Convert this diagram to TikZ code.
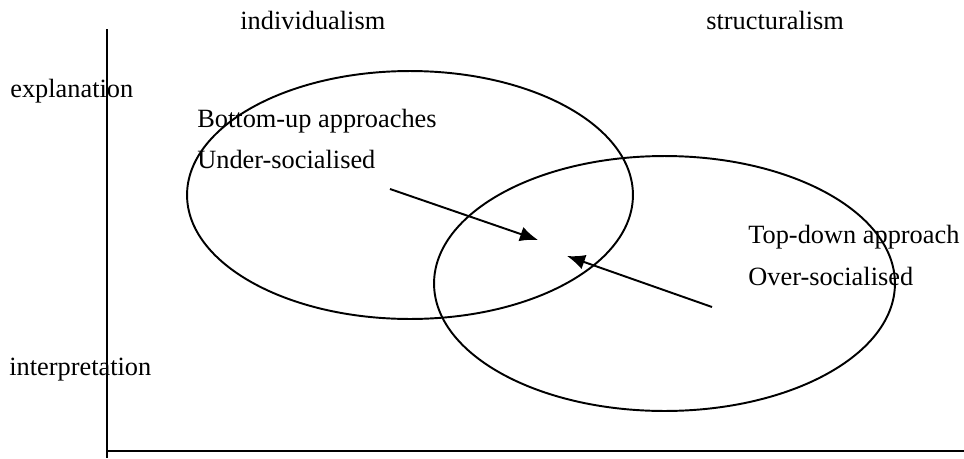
\documentclass[tikz,border=0pt]{standalone}
\usepackage{fontspec}
\setmainfont{Liberation Serif}
\usetikzlibrary{shapes.geometric,arrows.meta}
\begin{document}
\begin{tikzpicture}[x=0.02cm, y=0.02cm,
  txt/.style={anchor=base west, inner sep=0pt, font=\fontsize{15}{18}\selectfont},
  oval/.style={shape=ellipse, draw=black, line width=1.1pt, inner sep=0pt, outer sep=0pt},
  pointer/.style={-{Latex[length=3.6mm, width=3mm]}, line width=1.1pt, draw=black}]
\useasboundingbox (0,0) rectangle (964,458);
% axes
\coordinate (Ytop) at (107,429);
\coordinate (Ybot) at (107,0);
\coordinate (O) at (107,7);
\coordinate (Xend) at (964,7);
\draw [-, line width=0.9pt] (Ytop) -- (Ybot);
\draw [-, line width=1.4pt] (O) -- (Xend);
% labels on the axes
\node[txt] (indiv) at (240,429) {individualism};
\node[txt] (struct) at (706,429) {structuralism};
\node[txt] (expl) at (10,361) {explanation};
\node[txt] (interp) at (9,83) {interpretation};
% the two ellipses
\node[oval, minimum width=8.92cm, minimum height=4.96cm] (bottomup) at (410,263) {};
\node[oval, minimum width=9.22cm, minimum height=5.10cm] (topdown) at (664.5,174.5) {};
\node[txt] (bu1) at (197,331) {Bottom-up approaches};
\node[txt] (bu2) at (197,290) {Under-socialised};
\node[txt] (td1) at (748,215) {Top-down approach};
\node[txt] (td2) at (748,173) {Over-socialised};
% arrows into the overlap
\coordinate (buFrom) at (390,269);
\coordinate (buTo) at (538,218);
\coordinate (tdFrom) at (712,151);
\coordinate (tdTo) at (567,202);
\draw [pointer] (buFrom) -- (buTo);
\draw [pointer] (tdFrom) -- (tdTo);
\end{tikzpicture}
\end{document}
